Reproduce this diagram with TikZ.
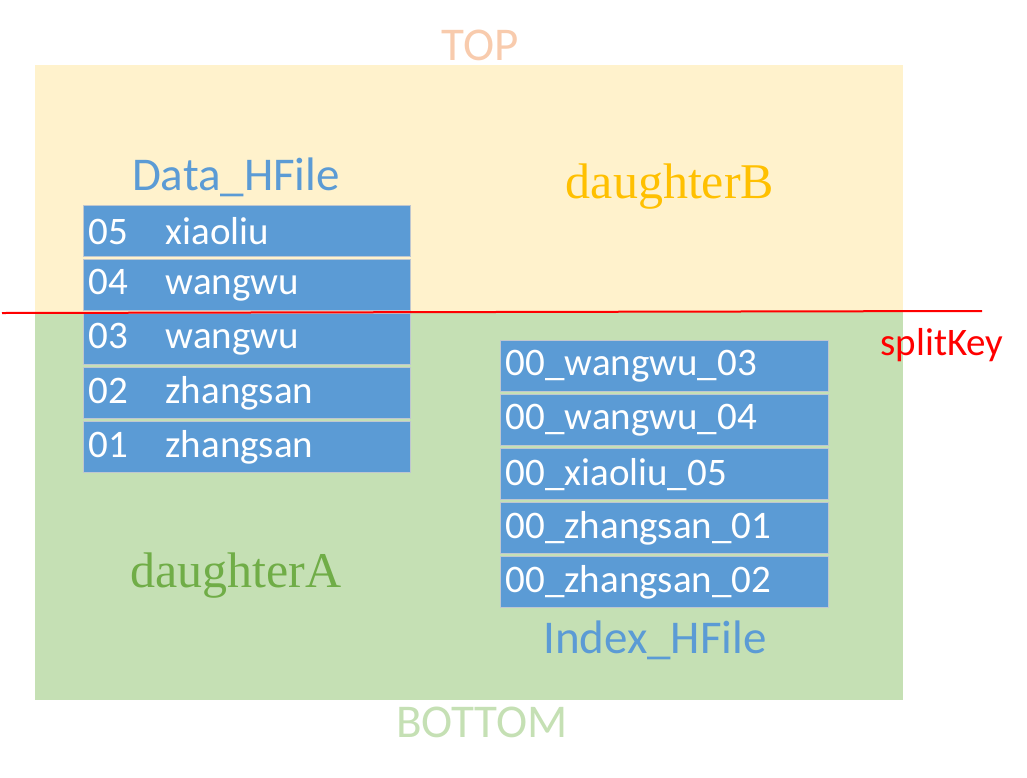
\documentclass[tikz,border=0pt]{standalone}
\usepackage{fontspec}
\setmainfont{Carlito}
\newfontfamily\simfont{Liberation Serif}
\usetikzlibrary{positioning}
\definecolor{topfill}{HTML}{FFF2CC}
\definecolor{botfill}{HTML}{C5E0B4}
\definecolor{cellblue}{HTML}{5B9BD5}
\definecolor{cellline}{HTML}{BFC7D0}
\definecolor{toptext}{HTML}{F8CBAD}
\definecolor{bottext}{HTML}{C5E0B4}
\definecolor{gold}{HTML}{FFC000}
\definecolor{leaf}{HTML}{70AD47}
\newcommand{\rowkey}[2]{\makebox[77pt][l]{#1}#2}

\begin{document}
\begin{tikzpicture}[
  x=1pt,y=-1pt,
  node distance=1.8pt,
  cell/.style={draw=cellline,line width=1.2pt,fill=cellblue,text=white,anchor=north west,
    minimum width=327pt,minimum height=51pt,text width=317pt,inner xsep=5pt,align=left,
    font=\fontsize{39}{39}\selectfont},
  below cell/.style={cell,anchor=north},
  title/.style={text=cellblue,font=\fontsize{47}{47}\selectfont},
  region/.style={font=\simfont\fontsize{50}{50}\selectfont},
  split/.style={draw=red,line width=2pt}
]
\useasboundingbox (0,0) rectangle (1027,777);
% regions
\fill[topfill] (35,65) rectangle (903,312);
\fill[botfill] (35,312) rectangle (903,700);
\node[font=\fontsize{47}{47}\selectfont,text=toptext] (top) at (480,45) {TOP};
\node[font=\fontsize{47}{47}\selectfont,text=bottext] (bottom) at (482,722) {BOTTOM};
\node[region,text=gold] (dB) at (670,187) {daughterB};
\node[region,text=leaf] (dA) at (236,576) {daughterA};
% data hfile
\node[title] (datatitle) at (236,177) {Data\_HFile};
\node[cell] (d5) at (83,205) {\rowkey{05}{xiaoliu}};
\node[below cell,below=of d5] (d4) {\rowkey{04}{wangwu}};
\node[below cell,below=of d4] (d3) {\rowkey{03}{wangwu}};
\node[below cell,below=of d3] (d2) {\rowkey{02}{zhangsan}};
\node[below cell,below=of d2] (d1) {\rowkey{01}{zhangsan}};
% index hfile
\node[cell,minimum width=328pt,text width=318pt] (i1) at (500,340) {00\_wangwu\_03};
\node[below cell,minimum width=328pt,text width=318pt,below=of i1] (i2) {00\_wangwu\_04};
\node[below cell,minimum width=328pt,text width=318pt,below=of i2] (i3) {00\_xiaoliu\_05};
\node[below cell,minimum width=328pt,text width=318pt,below=of i3] (i4) {00\_zhangsan\_01};
\node[below cell,minimum width=328pt,text width=318pt,below=of i4] (i5) {00\_zhangsan\_02};
\node[title] (indextitle) at (655,640) {Index\_HFile};
% split key
\coordinate (sl) at (2,313);
\coordinate (sr) at (982,311);
\draw[split] (sl) -- (sr);
\node[text=red,font=\fontsize{39}{39}\selectfont] (splitkey) at (942,345) {splitKey};
\end{tikzpicture}
\end{document}
